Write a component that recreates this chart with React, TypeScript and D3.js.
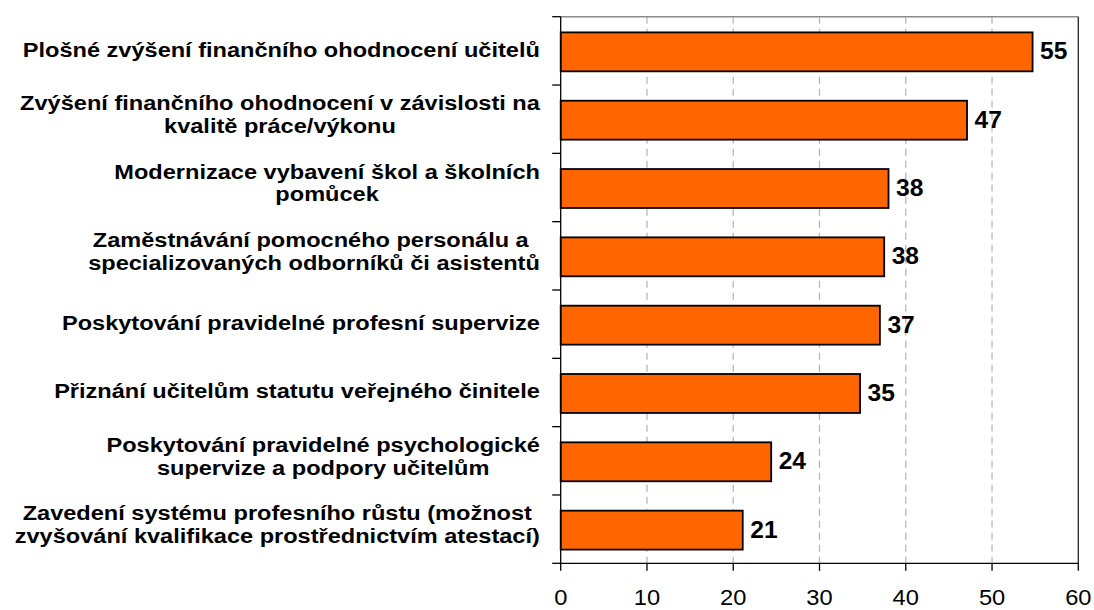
import React, { useEffect, useRef } from "react";
import * as d3 from "d3";

const categories: string[][] = [
  ["Plošné zvýšení finančního ohodnocení učitelů"],
  ["Zvýšení finančního ohodnocení v závislosti na", "kvalitě práce/výkonu"],
  ["Modernizace vybavení škol a školních", "pomůcek"],
  ["Zaměstnávání pomocného personálu a ", "specializovaných odborníků či asistentů"],
  ["Poskytování pravidelné profesní supervize"],
  ["Přiznání učitelům statutu veřejného činitele"],
  ["Poskytování pravidelné psychologické", "supervize a podpory učitelům"],
  ["Zavedení systému profesního růstu (možnost", "zvyšování kvalifikace prostřednictvím atestací)"],
];
const values: number[] = [54.7, 47.1, 38.0, 37.5, 37.0, 34.7, 24.4, 21.1];
const valueLabels: string[] = ["55", "47", "38", "38", "37", "35", "24", "21"];
const xTicks: number[] = [0, 10, 20, 30, 40, 50, 60];

const W = 1094;
const H = 610;
const FONT = "'Liberation Sans', Arial, Helvetica, sans-serif";

export default function App() {
  const ref = useRef<SVGSVGElement>(null);

  useEffect(() => {
    const svg = d3.select(ref.current);
    svg.selectAll("*").remove();

    const left = 560.7, right = 1078.3, top = 16.7, bottom = 563.3;
    const x = d3.scaleLinear().domain([0, 60]).range([left, right]);
    const ids = categories.map((_, i) => String(i));
    const y = d3.scaleBand<string>().domain(ids).range([top, bottom]).paddingInner(0.43).paddingOuter(0.215);
    const step = y.step();

    // grid
    svg.append("g").selectAll("line").data(xTicks.filter((t) => t > 0 && t < 60)).join("line")
      .attr("x1", (d) => x(d)).attr("x2", (d) => x(d))
      .attr("y1", top).attr("y2", bottom)
      .attr("stroke", "#b8b8b8").attr("stroke-width", 1.3).attr("stroke-dasharray", "7,5");

    // top border
    svg.append("line").attr("x1", left).attr("x2", right).attr("y1", top).attr("y2", top)
      .attr("stroke", "#8c8c8c").attr("stroke-width", 1.5);
    // right border
    svg.append("line").attr("x1", right).attr("x2", right).attr("y1", top).attr("y2", bottom)
      .attr("stroke", "#222").attr("stroke-width", 1.3);

    // bars
    svg.append("g").selectAll("rect").data(values).join("rect")
      .attr("x", x(0))
      .attr("y", (_, i) => (y(String(i)) as number) + 1)
      .attr("width", (d) => x(d) - x(0))
      .attr("height", y.bandwidth())
      .attr("fill", "#FF6600")
      .attr("stroke", "#000").attr("stroke-width", 1.8);

    // left axis
    svg.append("line").attr("x1", left).attr("x2", left).attr("y1", top).attr("y2", bottom)
      .attr("stroke", "#000").attr("stroke-width", 1.3);
    const yTickPos = d3.range(categories.length + 1).map((i) => top + i * step);
    svg.append("g").selectAll("line").data(yTickPos).join("line")
      .attr("x1", left - 8.5).attr("x2", left).attr("y1", (d) => d).attr("y2", (d) => d)
      .attr("stroke", "#000").attr("stroke-width", 1.3);

    // bottom axis
    svg.append("line").attr("x1", left).attr("x2", right).attr("y1", bottom).attr("y2", bottom)
      .attr("stroke", "#000").attr("stroke-width", 1.3);
    svg.append("g").selectAll("line").data(xTicks).join("line")
      .attr("x1", (d) => x(d)).attr("x2", (d) => x(d)).attr("y1", bottom).attr("y2", bottom + 7.5)
      .attr("stroke", "#000").attr("stroke-width", 1.3);
    svg.append("g").selectAll("text").data(xTicks).join("text")
      .attr("transform", (d) => `translate(${x(d)},605) scale(1.1,1)`)
      .attr("text-anchor", "middle")
      .attr("font-family", FONT).attr("font-size", 21.5).attr("fill", "#000")
      .text((d) => String(d));

    // value labels
    svg.append("g").selectAll("text").data(values).join("text")
      .attr("transform", (d, i) => `translate(${x(d) + 7.5},${(y(String(i)) as number) + y.bandwidth() / 2 + 8.5}) scale(1.07,1)`)
      .attr("font-family", FONT).attr("font-size", 23).attr("font-weight", "bold").attr("fill", "#000")
      .text((_, i) => valueLabels[i]);

    // category labels
    const sx = 1.15;
    const labelRight = 540;
    const lineGap = 22.7;
    const catG = svg.append("g");
    categories.forEach((lines, i) => {
      const center = top + (i + 0.5) * step;
      const texts = lines.map((ln) =>
        catG.append("text")
          .attr("font-family", FONT).attr("font-size", 20.5).attr("font-weight", "bold")
          .attr("fill", "#000").attr("text-anchor", "middle")
          .style("white-space", "pre")
          .text(ln)
      );
      const widths = texts.map((t) => (t.node() as SVGTextElement).getComputedTextLength() * sx);
      const maxW = Math.max(...widths);
      const cx = labelRight - maxW / 2;
      texts.forEach((t, j) => {
        const by = lines.length === 1 ? center + 6 : center - 9 + j * lineGap;
        t.attr("transform", `translate(${cx},${by}) scale(${sx},1)`);
      });
    });
  }, []);

  return (
    <div style={{ position: "absolute", left: 0, top: 0 }}>
      <svg ref={ref} width={W} height={H} style={{ display: "block", background: "#fff" }} />
    </div>
  );
}
